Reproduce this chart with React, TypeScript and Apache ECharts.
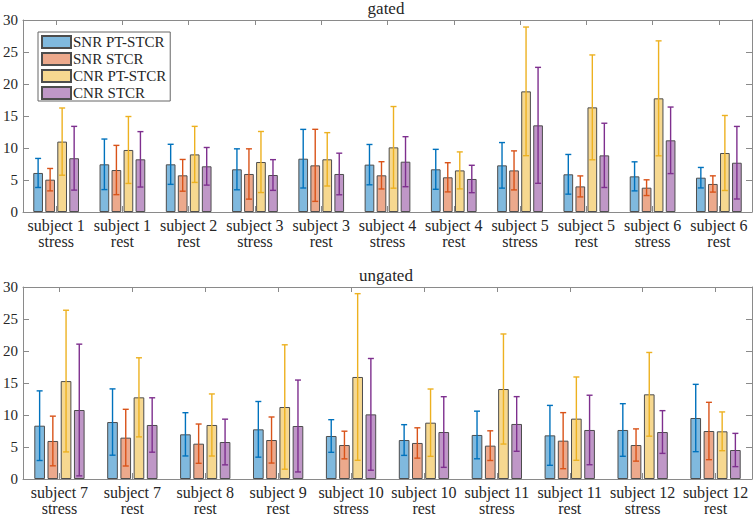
import React, { useEffect, useRef } from "react";
import * as echarts from "echarts";

const seriesNames = ["SNR PT-STCR", "SNR STCR", "CNR PT-STCR", "CNR STCR"];
const barColors = ["#80B9DE", "#ECA98C", "#F6D890", "#BF97C7"];
const errColors = ["#0072BD", "#D95319", "#EDB120", "#7E2F8E"];
const yTicks = [0, 5, 10, 15, 20, 25, 30];

// gated
const gatedSubjects = ["subject 1", "subject 1", "subject 2", "subject 3", "subject 3", "subject 4", "subject 4", "subject 5", "subject 5", "subject 6", "subject 6"];
const gatedConditions = ["stress", "rest", "rest", "stress", "rest", "stress", "rest", "stress", "rest", "stress", "rest"];
const gatedSnrPt = [6.1, 7.45, 7.45, 6.67, 8.33, 7.4, 6.67, 7.29, 5.89, 5.57, 5.36];
const gatedSnrPtErr = [2.27, 3.95, 3.13, 3.2, 4.58, 3.15, 3.12, 3.56, 3.1, 2.27, 1.6];
const gatedSnrSt = [5.05, 6.56, 5.73, 5.94, 7.29, 5.73, 5.42, 6.5, 4.0, 3.8, 4.38];
const gatedSnrStErr = [1.75, 3.85, 2.48, 3.93, 5.63, 2.13, 2.28, 3.05, 1.64, 1.23, 1.27];
const gatedCnrPt = [11.0, 9.69, 9.0, 7.81, 8.23, 10.1, 6.5, 18.85, 16.35, 17.76, 9.22];
const gatedCnrPtErr = [5.25, 5.23, 4.38, 4.77, 4.17, 6.38, 2.89, 10.05, 8.19, 8.98, 5.86];
const gatedCnrSt = [8.4, 8.23, 7.14, 5.78, 5.94, 7.86, 5.16, 13.54, 8.85, 11.2, 7.7];
const gatedCnrStErr = [4.98, 4.33, 2.94, 2.4, 3.25, 3.91, 2.14, 9.06, 5.02, 5.2, 5.67];

// ungated
const ungatedSubjects = ["subject 7", "subject 7", "subject 8", "subject 9", "subject 10", "subject 10", "subject 11", "subject 11", "subject 12", "subject 12"];
const ungatedConditions = ["stress", "rest", "rest", "rest", "stress", "rest", "stress", "rest", "stress", "rest"];
const ungatedSnrPt = [8.33, 8.9, 6.98, 7.76, 6.72, 6.09, 6.88, 6.82, 7.66, 9.53];
const ungatedSnrPtErr = [5.44, 5.18, 3.38, 4.35, 2.55, 2.4, 3.72, 4.68, 4.11, 5.26];
const ungatedSnrSt = [5.94, 6.46, 5.52, 6.09, 5.31, 5.63, 5.21, 5.99, 5.31, 7.5];
const ungatedSnrStErr = [3.88, 4.43, 3.07, 3.6, 2.16, 2.37, 2.32, 4.38, 2.52, 4.48];
const ungatedCnrPt = [15.3, 12.76, 8.44, 11.25, 15.94, 8.8, 14.06, 9.43, 13.23, 7.45];
const ungatedCnrPtErr = [11.07, 6.18, 4.85, 9.72, 13.02, 5.26, 8.6, 6.51, 6.54, 3.03];
const ungatedCnrSt = [10.78, 8.44, 5.78, 8.28, 10.1, 7.34, 8.6, 7.66, 7.34, 4.53];
const ungatedCnrStErr = [10.29, 4.25, 3.57, 7.18, 8.73, 5.52, 4.27, 5.43, 3.34, 2.6];

const BAR_CAT_GAP = 0.31;
const BAR_GAP = 0.24;
const FONT = "Liberation Serif";
const TEXT = "#262626";
const AXIS = "#8a8a8a";

function makeErrRender(k: number, color: string) {
  return (params: any, api: any) => {
    const idx = api.value(0);
    const m = api.value(1);
    const e = api.value(2);
    const band = api.size([1, 0])[0];
    const total = band * (1 - BAR_CAT_GAP);
    const w = total / (4 + 3 * BAR_GAP);
    const cx = api.coord([idx, m])[0] - total / 2 + w / 2 + k * w * (1 + BAR_GAP);
    const yHi = api.coord([idx, m + e])[1];
    const yLo = api.coord([idx, m - e])[1];
    const cap = 3;
    const st = { stroke: color, lineWidth: 1.4 };
    return {
      type: "group",
      children: [
        { type: "line", shape: { x1: cx, y1: yHi, x2: cx, y2: yLo }, style: st },
        { type: "line", shape: { x1: cx - cap, y1: yHi, x2: cx + cap, y2: yHi }, style: st },
        { type: "line", shape: { x1: cx - cap, y1: yLo, x2: cx + cap, y2: yLo }, style: st },
      ],
    };
  };
}

function axesFor(gi: number, subjects: string[], conditions: string[]) {
  const cats = subjects.map((s, i) => s + "\n" + conditions[i]);
  const xBottom = {
    type: "category",
    gridIndex: gi,
    data: cats,
    position: "bottom",
    boundaryGap: true,
    axisLine: { show: true, lineStyle: { color: AXIS, width: 1 } },
    axisTick: { show: true, inside: true, alignWithLabel: true, length: 6, lineStyle: { color: AXIS } },
    axisLabel: { color: TEXT, fontFamily: FONT, fontSize: 16, lineHeight: 16, margin: 5, interval: 0 },
    splitLine: { show: false },
  };
  const xTop = {
    type: "category",
    gridIndex: gi,
    data: cats,
    position: "top",
    boundaryGap: true,
    axisLine: { show: true, onZero: false, lineStyle: { color: AXIS, width: 1 } },
    axisTick: { show: true, inside: true, alignWithLabel: true, length: 5, lineStyle: { color: AXIS } },
    axisLabel: { show: false },
    splitLine: { show: false },
  };
  const yLeft = {
    type: "value",
    gridIndex: gi,
    min: 0,
    max: 30,
    interval: 5,
    position: "left",
    axisLine: { show: true, lineStyle: { color: AXIS, width: 1 } },
    axisTick: { show: true, inside: true, length: 6, lineStyle: { color: AXIS } },
    axisLabel: { color: TEXT, fontFamily: FONT, fontSize: 15, margin: 5 },
    splitLine: { show: false },
  };
  const yRight = {
    type: "value",
    gridIndex: gi,
    min: 0,
    max: 30,
    interval: 5,
    position: "right",
    axisLine: { show: true, lineStyle: { color: AXIS, width: 1 } },
    axisTick: { show: true, inside: true, length: 6, lineStyle: { color: AXIS } },
    axisLabel: { show: false },
    splitLine: { show: false },
  };
  return { x: [xBottom, xTop], y: [yLeft, yRight] };
}

function seriesFor(gi: number, means: number[][], errs: number[][]) {
  const xi = gi * 2;
  const yi = gi * 2;
  const out: any[] = [];
  means.forEach((vals, k) => {
    out.push({
      type: "bar",
      name: seriesNames[k],
      xAxisIndex: xi,
      yAxisIndex: yi,
      data: vals,
      barCategoryGap: BAR_CAT_GAP * 100 + "%",
      barGap: BAR_GAP * 100 + "%",
      itemStyle: { color: barColors[k], borderColor: "#4d4d4d", borderWidth: 1 },
      z: 2,
    });
  });
  means.forEach((vals, k) => {
    out.push({
      type: "custom",
      name: seriesNames[k] + " err",
      xAxisIndex: xi,
      yAxisIndex: yi,
      renderItem: makeErrRender(k, errColors[k]),
      encode: { x: 0, y: 1 },
      data: vals.map((v, i) => [i, v, errs[k][i]]),
      z: 5,
      silent: true,
    });
  });
  return out;
}

export default function App() {
  const ref = useRef<HTMLDivElement>(null);
  useEffect(() => {
    if (!ref.current) return;
    const chart = echarts.init(ref.current, undefined, { renderer: "svg" });
    const a0 = axesFor(0, gatedSubjects, gatedConditions);
    const a1 = axesFor(1, ungatedSubjects, ungatedConditions);
    const option: any = {
      animation: false,
      backgroundColor: "#ffffff",
      title: [
        { text: "gated", left: 386, top: 0, textAlign: "center", padding: 0, textStyle: { fontFamily: FONT, fontSize: 17, fontWeight: "normal", color: TEXT } },
        { text: "ungated", left: 386, top: 267, textAlign: "center", padding: 0, textStyle: { fontFamily: FONT, fontSize: 17, fontWeight: "normal", color: TEXT } },
      ],
      legend: {
        data: seriesNames,
        orient: "vertical",
        left: 38,
        top: 32,
        padding: [2, 4, 0, 3],
        itemWidth: 29,
        itemHeight: 12,
        itemGap: 1,
        icon: "rect",
        borderColor: "#666666",
        borderWidth: 1,
        borderRadius: 0,
        backgroundColor: "#ffffff",
        textStyle: { fontFamily: FONT, fontSize: 15, lineHeight: 16, color: TEXT, padding: [0, 0, 0, -3] },
        z: 10,
      },
      grid: [
        { left: 20, right: 2, top: 20, height: 192, containLabel: false },
        { left: 20, right: 2, top: 287, height: 192, containLabel: false },
      ],
      xAxis: [...a0.x, ...a1.x],
      yAxis: [...a0.y, ...a1.y],
      series: [
        ...seriesFor(0, [gatedSnrPt, gatedSnrSt, gatedCnrPt, gatedCnrSt], [gatedSnrPtErr, gatedSnrStErr, gatedCnrPtErr, gatedCnrStErr]),
        ...seriesFor(1, [ungatedSnrPt, ungatedSnrSt, ungatedCnrPt, ungatedCnrSt], [ungatedSnrPtErr, ungatedSnrStErr, ungatedCnrPtErr, ungatedCnrStErr]),
      ],
    };
    chart.setOption(option);
    return () => chart.dispose();
  }, []);
  return (
    <div
      ref={ref}
      style={{ position: "absolute", left: 0, top: 0, width: 754, height: 516, background: "#fff" }}
    />
  );
}
